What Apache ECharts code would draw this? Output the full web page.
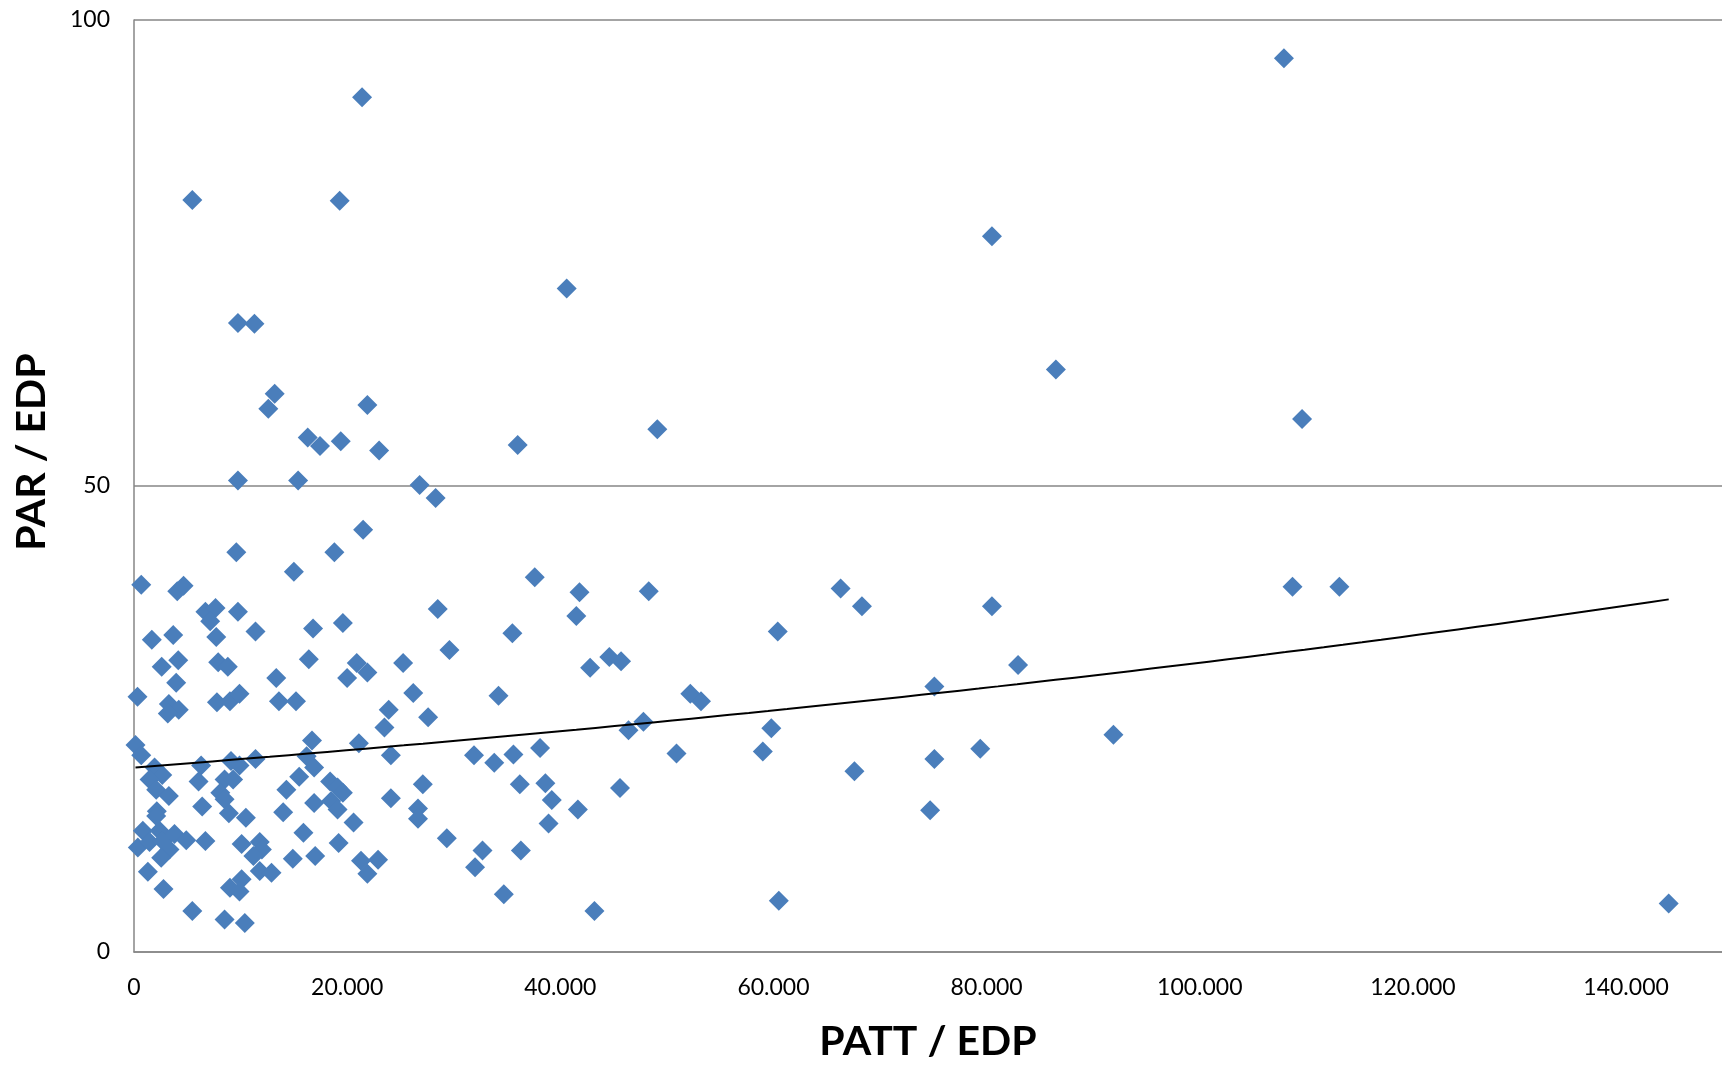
<!DOCTYPE html>
<html>
<head>
<meta charset="utf-8">
<title>PAR / EDP vs PATT / EDP</title>
<script src="https://cdn.jsdelivr.net/npm/echarts@6/dist/echarts.min.js"></script>
<style>
  html, body { margin: 0; padding: 0; background: #fff; }
  #chart { width: 1722px; height: 1067px; }
</style>
</head>
<body>
<div id="chart"></div>
<script>
// x = PATT / EDP, y = PAR / EDP
var pattEdp = [
  21400, 5470, 19300, 9750, 11300,
  13200, 12600, 21900, 16300, 17450, 19400, 23000, 9750, 15400, 26800, 28300, 21500, 9600, 18800, 15000,
  680, 4060, 4650, 6700, 7650, 7150, 9750, 11400, 1670, 3680, 7720, 16800, 19600, 4150, 2600, 7900, 8800,
  16400, 20900, 25250,
  21900, 3960, 13350, 20000, 330, 3270, 4200, 3170, 7780, 9000, 9900, 13600, 15200, 26200, 23900, 23500,
  27600, 140, 680, 16700, 21100, 24100, 16200, 16900, 1930, 2650, 6300, 9100, 9900, 11400, 1460, 6060,
  8500, 9300, 15500, 2080, 3270, 8100, 8500, 14300, 18400, 19100, 19600, 27100, 6400, 8900, 16900, 18500,
  19100, 24100, 2140, 2080, 10500, 14000, 26650, 26650, 20600, 830, 2400, 3800, 4900, 6700, 15900, 360,
  1460, 2700, 3330, 2550, 10100, 11800, 12000, 11200, 14900, 17000, 19200, 21300, 22900, 21900, 1300,
  11800, 12900, 10100, 9000, 9900, 2770, 5470, 8500, 10400,
  37600, 41800, 48300, 28500, 41500, 35500, 29600, 42800, 44600, 45700, 34200, 52200, 53200, 46400, 47800,
  31900, 33800, 35600, 38100, 50900, 36200, 38600, 39200, 41650, 45600, 38900, 29350, 32700, 32000, 36300,
  34700, 43200,
  40600, 36000, 49100,
  66300, 68300, 60400, 80500, 82950, 75100, 59800, 59000, 67600, 75100, 79400, 91900, 74700, 60500,
  80500, 86500, 107900, 109600, 108700, 113100, 144000
];
var parEdp = [
  91.7, 80.7, 80.6, 67.5, 67.4,
  59.9, 58.3, 58.7, 55.2, 54.3, 54.8, 53.8, 50.6, 50.6, 50.1, 48.7, 45.3, 42.9, 42.9, 40.8,
  39.4, 38.7, 39.3, 36.5, 36.9, 35.5, 36.5, 34.4, 33.5, 34.0, 33.8, 34.7, 35.3, 31.3, 30.6, 31.1, 30.6,
  31.4, 31.0, 31.0,
  30.0, 28.9, 29.4, 29.4, 27.4, 26.6, 26.0, 25.6, 26.8, 26.9, 27.7, 26.9, 26.9, 27.8, 26.0, 24.1,
  25.2, 22.2, 21.1, 22.7, 22.4, 21.1, 21.0, 19.8, 19.8, 19.0, 20.0, 20.5, 20.0, 20.7, 18.5, 18.3,
  18.5, 18.5, 18.8, 17.4, 16.75, 17.1, 16.4, 17.4, 18.3, 17.65, 17.1, 18.0, 15.6, 14.9, 16.0, 16.2,
  15.3, 16.5, 15.1, 14.6, 14.4, 15.0, 15.4, 14.3, 13.9, 13.0, 13.0, 12.65, 12.0, 11.9, 12.8, 11.2,
  11.8, 11.9, 11.0, 10.1, 11.6, 11.8, 11.0, 10.3, 10.0, 10.3, 11.7, 9.8, 9.9, 8.4, 8.6,
  8.7, 8.5, 7.8, 6.9, 6.5, 6.75, 4.4, 3.5, 3.1,
  40.2, 38.6, 38.7, 36.8, 36.05, 34.2, 32.4, 30.5, 31.65, 31.2, 27.5, 27.7, 26.9, 23.8, 24.7,
  21.1, 20.3, 21.2, 21.9, 21.3, 18.0, 18.1, 16.3, 15.3, 17.6, 13.8, 12.2, 10.9, 9.1, 10.9,
  6.2, 4.4,
  71.2, 54.4, 56.1,
  39.0, 37.1, 34.4, 37.1, 30.8, 28.5, 24.0, 21.5, 19.4, 20.7, 21.8, 23.3, 15.2, 5.5,
  76.8, 62.5, 95.9, 57.2, 39.2, 39.2, 5.2
];
var xTicks = [0, 20000, 40000, 60000, 80000, 100000, 120000, 140000];
var yTicks = [0, 50, 100];

var points = pattEdp.map(function (x, i) { return [x, parEdp[i]]; });

// exponential trend line (least squares on ln y), as the spreadsheet draws it
function expTrend(xs, ys) {
  var n = xs.length, sx = 0, sy = 0, sxx = 0, sxy = 0;
  for (var i = 0; i < n; i++) {
    var ly = Math.log(ys[i]);
    sx += xs[i]; sy += ly; sxx += xs[i] * xs[i]; sxy += xs[i] * ly;
  }
  var b = (n * sxy - sx * sy) / (n * sxx - sx * sx);
  var a = Math.exp((sy - b * sx) / n);
  var x0 = Math.min.apply(null, xs), x1 = Math.max.apply(null, xs);
  var out = [];
  for (var k = 0; k <= 80; k++) {
    var x = x0 + (x1 - x0) * k / 80;
    out.push([x, a * Math.exp(b * x)]);
  }
  return out;
}
var trend = expTrend(pattEdp, parEdp);

function dotted(v) {
  return String(v).replace(/\B(?=(\d{3})+(?!\d))/g, '.');
}

var chart = echarts.init(document.getElementById('chart'));
chart.setOption({
  animation: false,
  backgroundColor: '#ffffff',
  textStyle: { fontFamily: 'Lato', color: '#000' },
  grid: { left: 134, right: 0, top: 20, bottom: 114, containLabel: false },
  xAxis: {
    type: 'value',
    min: xTicks[0],
    max: 149000,
    interval: xTicks[1] - xTicks[0],
    name: 'PATT / EDP',
    nameLocation: 'middle',
    nameGap: 69,
    nameTextStyle: { fontFamily: 'Lato', fontWeight: 'bold', fontSize: 41, color: '#000' },
    axisLine: { lineStyle: { color: '#868686', width: 1.5 } },
    axisTick: { show: false },
    splitLine: { show: false },
    axisLabel: {
      fontFamily: 'Lato', fontSize: 23, color: '#000', margin: 24,
      showMaxLabel: false,
      formatter: function (v) { return xTicks.indexOf(v) >= 0 ? dotted(v) : ''; }
    }
  },
  yAxis: {
    type: 'value',
    min: yTicks[0],
    max: yTicks[yTicks.length - 1],
    interval: yTicks[1] - yTicks[0],
    name: 'PAR / EDP',
    nameLocation: 'middle',
    nameGap: 82,
    nameTextStyle: { fontFamily: 'Lato', fontWeight: 'bold', fontSize: 41, color: '#000', padding: [0, 0, 0, 68] },
    axisLine: { show: true, lineStyle: { color: '#868686', width: 1.5 } },
    axisTick: { show: false },
    splitLine: { show: true, lineStyle: { color: '#868686', width: 1.5 } },
    axisLabel: { fontFamily: 'Lato', fontSize: 23, color: '#000', margin: 24 }
  },
  series: [
    {
      name: 'PAR / EDP',
      type: 'scatter',
      symbol: 'diamond',
      symbolSize: 20,
      itemStyle: { color: '#4a7ebb', opacity: 1 },
      data: points,
      z: 2
    },
    {
      name: 'Trend',
      type: 'line',
      data: trend,
      showSymbol: false,
      symbol: 'none',
      lineStyle: { color: '#000', width: 2 },
      z: 3
    }
  ]
});
</script>
</body>
</html>
